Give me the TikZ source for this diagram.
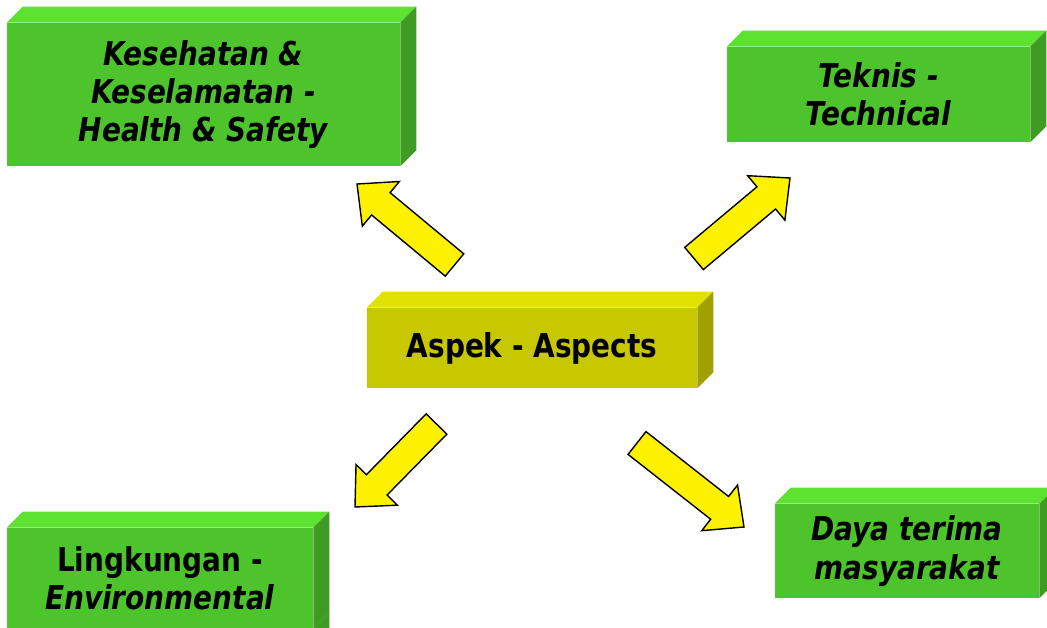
\documentclass[tikz,border=0pt]{standalone}
\usepackage{fontspec}
\setmainfont{DejaVu Sans}[FakeStretch=0.85,
  BoldFont={DejaVu Sans Bold}, ItalicFont={DejaVu Sans Oblique},
  BoldItalicFont={DejaVu Sans Bold Oblique}]
\usetikzlibrary{calc}

\definecolor{grfront}{RGB}{77,195,44}
\definecolor{grtop}{RGB}{94,226,50}
\definecolor{grside}{RGB}{63,156,34}
\definecolor{ylfront}{RGB}{200,200,0}
\definecolor{yltop}{RGB}{226,226,0}
\definecolor{ylside}{RGB}{160,160,0}

\begin{document}
\begin{tikzpicture}[x=0.02cm, y=-0.02cm,
  blk/.style={rectangle, fill=grfront, inner sep=0pt, align=center, font=\fontsize{18.7}{21.8}\selectfont\bfseries},
  hub/.style={blk, fill=ylfront},
  fat/.style={fill=yellow, draw=black, line width=0.8pt, line join=miter},
]
\useasboundingbox (0,0) rectangle (1047,628);
\clip (0,0) rectangle (1047,628);

% === Front faces ===
\node[blk, minimum width=7.86cm, minimum height=2.86cm] (hs) at (203.5,94.5)
  {\itshape Kesehatan \&\\\itshape Keselamatan -\\\itshape Health \& Safety};
\node[blk, minimum width=6.06cm, minimum height=1.9cm] (tech) at (878.5,94.5)
  {\itshape Teknis -\\\itshape Technical};
\node[hub, minimum width=6.6cm, minimum height=1.6cm] (asp) at (532,348) {Aspek - Aspects};
\node[blk, minimum width=6.12cm, minimum height=2.0cm] (env) at (160,578)
  {Lingkungan -\\\textit{Environmental}};
\node[blk, minimum width=5.28cm, minimum height=1.88cm] (daya) at (907,551)
  {\itshape Daya terima\\\itshape masyarakat};

% === Top and side faces ===
\foreach \n/\ct/\cs in {hs/grtop/grside, tech/grtop/grside, asp/yltop/ylside, env/grtop/grside, daya/grtop/grside} {
  \fill[\ct] (\n.north west) -- ++(16,-16) -- ([shift={(16,-16)}]\n.north east) -- (\n.north east) -- cycle;
  \fill[\cs] (\n.north east) -- ++(16,-16) -- ([shift={(16,-16)}]\n.south east) -- (\n.south east) -- cycle;
}
\fill[grside] (env.south east) -- ++(16,-16) -- ++(0,30) -- ++(-16,0) -- cycle;

% === Block arrows ===
\coordinate (t1) at (454.5,265); \coordinate (p1) at (357,184);
\coordinate (t2) at (694,258.5); \coordinate (p2) at (790,178);
\coordinate (t3) at (436.5,424); \coordinate (p3) at (355,507);
\coordinate (t4) at (637,443);   \coordinate (p4) at (744,527);

\foreach \s/\e in {t1/p1, t2/p2, t3/p3, t4/p4} {
  \coordinate (hb) at ($(\e)!0.62cm!(\s)$);
  \filldraw[fat] ($(\s)!0.29cm!90:(\e)$) -- ($(hb)!0.29cm!90:(\e)$) -- ($(hb)!0.58cm!90:(\e)$)
    -- (\e) -- ($(hb)!0.58cm!-90:(\e)$) -- ($(hb)!0.29cm!-90:(\e)$) -- ($(\s)!0.29cm!-90:(\e)$) -- cycle;
}

\end{tikzpicture}
\end{document}
